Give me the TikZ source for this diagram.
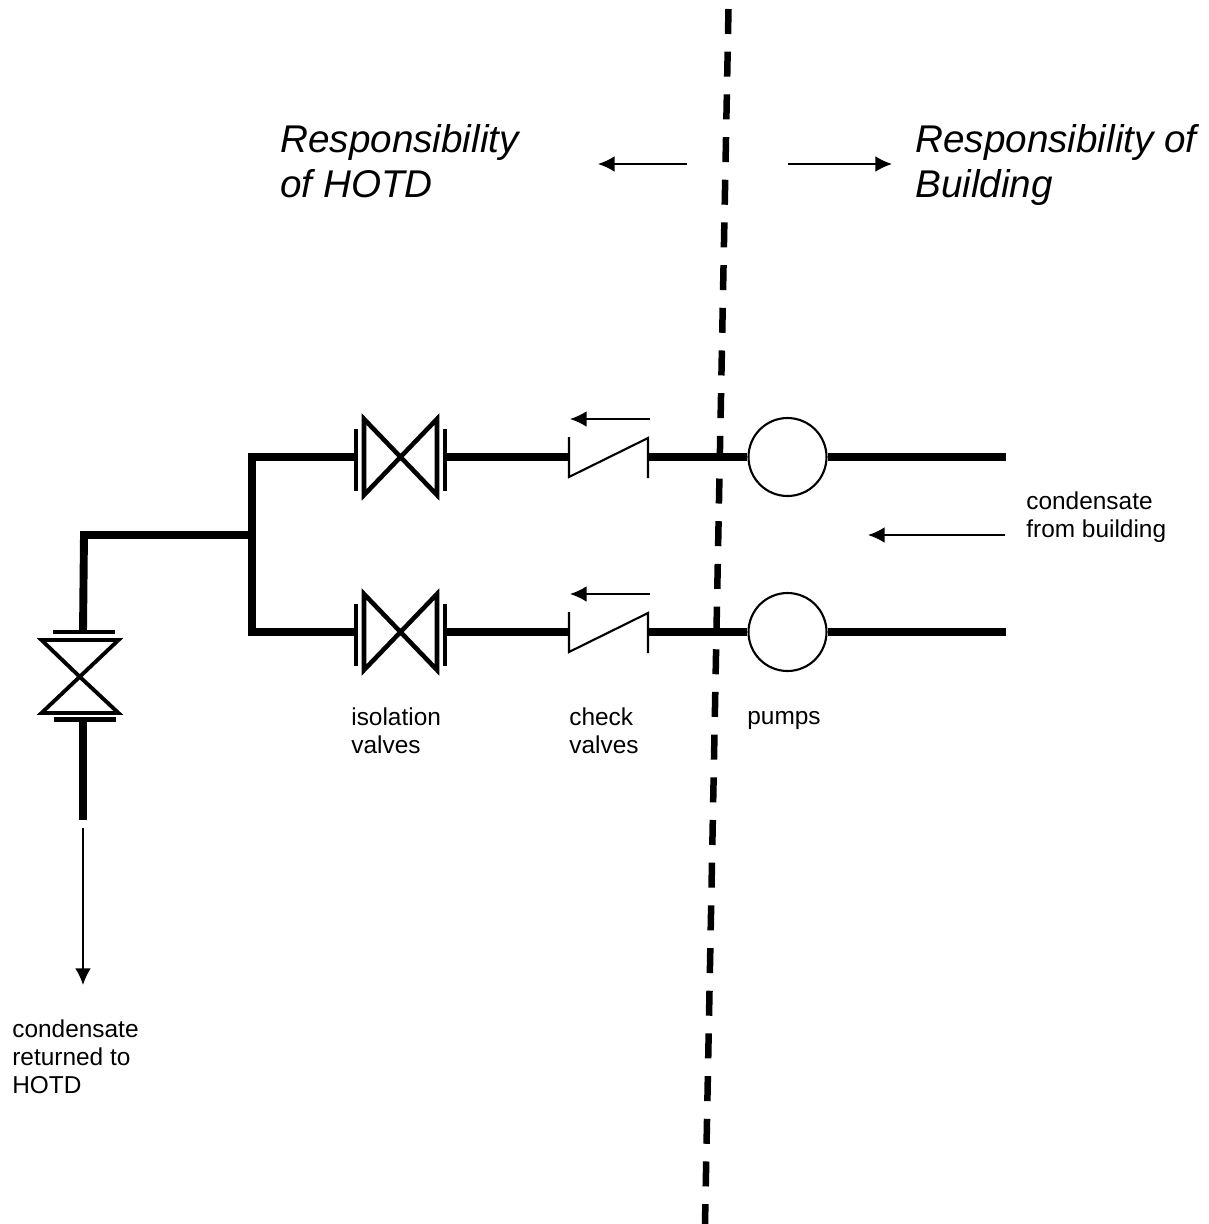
\documentclass[tikz,border=0pt]{standalone}
\usepackage{fontspec}
\setmainfont{Liberation Sans}
\usetikzlibrary{arrows.meta}
\tikzset{
    pipe/.style={line width=4.5pt, line join=miter},
    thin line/.style={line width=1.2pt},
    flow/.style={line width=1pt, -{Latex[length=9.5pt,width=9pt]}},
    flange/.style={line width=2.6pt},
    valve/.style={line width=2.6pt, line join=miter},
    lbl/.style={inner sep=0pt, align=left, anchor=north west, font=\fontsize{13.9}{16}\selectfont},
    title/.style={inner sep=0pt, align=left, anchor=north west, font=\fontsize{22}{25.6}\selectfont\itshape},
    pump/.style={circle, draw, line width=1.2pt, fill=white, minimum size=1.56cm, inner sep=0pt},
}
\begin{document}
\begin{tikzpicture}[x=0.02cm,y=-0.02cm]
    \useasboundingbox (0,0) rectangle (1209,1224);

    % boundary
    \coordinate (top) at (728.5,9);
    \coordinate (bot) at (705,1224);
    \draw[line width=3.7pt, dash pattern=on 0.5cm off 0.354cm] (top) -- (bot);

    % pipe junctions
    \coordinate (tee) at (252,535);
    \coordinate (upA) at (252,457);
    \coordinate (upB) at (252,632);
    \coordinate (elbow) at (84,535);
    \coordinate (endA) at (1006,457);
    \coordinate (endB) at (1006,632);
    \coordinate (endC) at (83,820);

    % valves and pumps
    \foreach \name/\yy in {A/457, B/632} {
        \coordinate (iso\name) at (400.5,\yy);
        \coordinate (isoL\name) at (356,\yy);
        \coordinate (isoR\name) at (445,\yy);
        \coordinate (chkL\name) at (569,\yy);
        \coordinate (chkR\name) at (649,\yy);
        \node[pump] (pump\name) at (787.5,\yy) {};

        \draw[pipe] (isoR\name) -- (chkL\name);
        \draw[pipe] (chkR\name) -- (pump\name);
        \draw[pipe] (pump\name) -- (end\name);

        \draw[valve] (iso\name) -- ++(-36.5,-38) -- ++(0,76) -- ++(73,-76) -- ++(0,76) -- cycle;
        \draw[flange] (isoL\name) ++(0,-28) -- ++(0,62);
        \draw[flange] (isoR\name) ++(0,-28) -- ++(0,62);

        \draw[thin line] (chkL\name) ++(0,-20) -- ++(0,40) -- ++(79,-39) -- ++(0,40);
        \coordinate (chkT\name) at (650,\yy-38);
        \coordinate (chkH\name) at (570,\yy-38);
        \draw[flow] (chkT\name) -- (chkH\name);
    }

    \draw[pipe] (isoLA) -- (upA) -- (upB) -- (isoLB);
    \draw[pipe] (tee) -- (elbow) -- (83,632);
    \draw[pipe] (83,719) -- (endC);

    % return valve
    \coordinate (ret) at (80,677);
    \draw[valve, line width=2.2pt] (ret) -- (41.5,640) -- (118.5,640) -- (41.5,713) -- (118.5,713) -- cycle;
    \draw[flange] (53,632) -- (115,632);
    \draw[flange] (54,719.5) -- (116,719.5);

    % flow arrows
    \coordinate (retT) at (83,828);
    \coordinate (retH) at (83,985);
    \draw[flow] (retT) -- (retH);
    \coordinate (bldT) at (1005,535);
    \coordinate (bldH) at (868,535);
    \draw[flow] (bldT) -- (bldH);
    \coordinate (hotdT) at (687,164);
    \coordinate (hotdH) at (598,164);
    \draw[flow] (hotdT) -- (hotdH);
    \coordinate (bdgT) at (788,164);
    \coordinate (bdgH) at (892,164);
    \draw[flow] (bdgT) -- (bdgH);

    % text
    \node[title] (lblHotd) at (280,124) {Responsibility\\of HOTD};
    \node[title] (lblBdg) at (915,124) {Responsibility of\\Building};
    \node[lbl] (lblFrom) at (1026,491) {condensate\\from building};
    \node[lbl] (lblIso) at (351,707) {isolation\\valves};
    \node[lbl] (lblChk) at (569,707) {check\\valves};
    \node[lbl] (lblPump) at (747,711) {pumps};
    \node[lbl] (lblRet) at (12,1019) {condensate\\returned to\\HOTD};
\end{tikzpicture}
\end{document}
